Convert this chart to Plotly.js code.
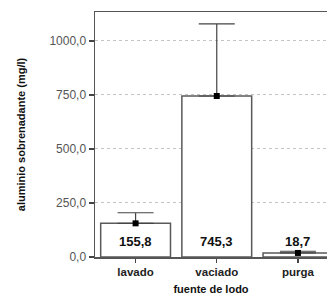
<!DOCTYPE html>
<html><head><meta charset="utf-8">
<script src="https://cdn.plot.ly/plotly-3.0.1.min.js"></script>
<style>html,body{margin:0;padding:0;background:#fff}#chart{width:327px;height:295px}</style>
</head><body><div id="chart"></div>
<script>
const categories = ["lavado", "vaciado", "purga"];
const means = [155.8, 745.3, 18.7];
const upperErrors = [49, 334, 8];
const tickValues = [0, 250, 500, 750, 1000];
const labelY = 72;

const fmt = v => v.toFixed(1).replace('.', ',');

const bars = {
  type: 'bar', x: categories, y: means, width: 0.86,
  marker: {color: '#ffffff', line: {color: '#5a5a5a', width: 1.5}},
  hoverinfo: 'skip', showlegend: false
};
const points = {
  type: 'scatter', mode: 'markers', x: categories, y: means,
  marker: {symbol: 'square', size: 6, color: '#000000'},
  error_y: {type: 'data', symmetric: false, array: upperErrors, arrayminus: means.map(() => 0),
            color: '#444444', thickness: 1.2, width: 18},
  showlegend: false
};

const annotations = categories.map((c, i) => ({
  x: c, y: labelY, xref: 'x', yref: 'y', text: fmt(means[i]), showarrow: false,
  font: {family: 'Liberation Sans, Arial', size: 13, color: '#111111', weight: 'bold'}
}));

const layout = {
  width: 327, height: 295,
  margin: {l: 95, r: 0, t: 12, b: 38},
  paper_bgcolor: '#ffffff', plot_bgcolor: '#ffffff',
  separators: ',.',
  font: {family: 'Liberation Sans, Arial', color: '#333333'},
  xaxis: {
    type: 'category', range: [-0.5, 2.358], automargin: false,
    showline: true, linecolor: '#555555', linewidth: 1.5, mirror: true,
    ticks: 'outside', ticklen: 4, tickcolor: '#444444', tickwidth: 1.2,
    tickfont: {size: 11.5, color: '#222222', weight: 'bold'},
    showgrid: false,
    title: {text: 'fuente de lodo', font: {size: 11, color: '#111111', weight: 'bold'}, standoff: 9}
  },
  yaxis: {
    range: [0, 1134], tickvals: tickValues, tickformat: '.1f', automargin: false,
    showline: true, linecolor: '#555555', linewidth: 1.5,
    ticks: 'outside', ticklen: 5, tickcolor: '#444444', tickwidth: 1.2,
    tickfont: {size: 12, color: '#555555'},
    showgrid: true, gridcolor: '#c4c4c4', griddash: 'dot', gridwidth: 1,
    zeroline: false,
    title: {text: 'aluminio sobrenadante (mg/l)', font: {size: 11, color: '#111111', weight: 'bold'}, standoff: 21}
  },
  annotations: annotations,
  bargap: 0.14
};

Plotly.newPlot('chart', [bars, points], layout, {staticPlot: true, displayModeBar: false});
</script></body></html>
